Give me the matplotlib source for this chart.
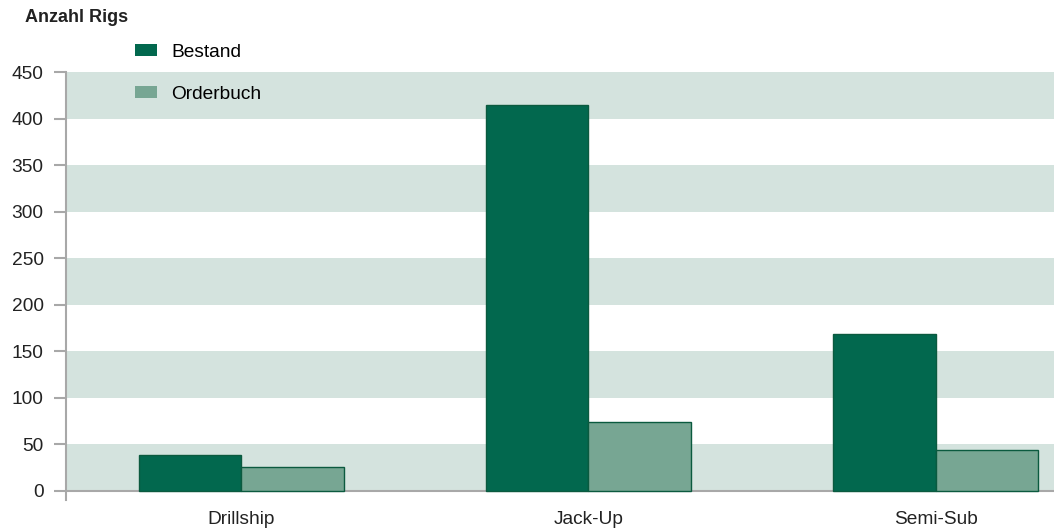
import matplotlib
matplotlib.use('Agg')
import matplotlib.pyplot as plt
import numpy as np

plt.rcParams['font.family'] = ['Liberation Sans', 'DejaVu Sans']

# data
categories = ['Drillship', 'Jack-Up', 'Semi-Sub']
bestand = [38, 415, 168]
orderbuch = [25, 74, 44]
series_labels = ['Bestand', 'Orderbuch']
yticks = np.arange(0, 451, 50)

c_best = '#02684e'
c_order = '#77a693'
c_edge = '#0b5a3f'
c_band = '#d4e3de'
c_axis = '#a8a8a8'

fig = plt.figure(figsize=(10.54, 5.28), dpi=100)
ax = fig.add_axes([66 / 1054, 28 / 528, 1 - 66 / 1054, (500 - 72) / 528])

# horizontal bands
for lo in range(0, 450, 100):
    ax.axhspan(lo, lo + 50, color=c_band, lw=0, zorder=0)
ax.axhline(0, color=c_axis, lw=1.5, zorder=1)

x = np.arange(len(categories))
w = 0.295
ax.bar(x - w / 2, bestand, w, color=c_best, edgecolor=c_edge, lw=1, zorder=2, label=series_labels[0])
ax.bar(x + w / 2, orderbuch, w, color=c_order, edgecolor=c_edge, lw=1, zorder=2, label=series_labels[1])

ax.set_xlim(-0.504, 2.34)
ax.set_ylim(-10, 450)
ax.set_yticks(yticks)
ax.set_yticklabels([str(v) for v in yticks], fontsize=13.8, color='#222222')
ax.tick_params(axis='y', length=8.6, width=1.5, color=c_axis, pad=7.5)
ax.set_xticks(x)
ax.set_xticklabels(categories, fontsize=13.8, color='#222222')
ax.tick_params(axis='x', length=0, pad=8)

for s in ['top', 'right', 'bottom']:
    ax.spines[s].set_visible(False)
ax.spines['left'].set_color(c_axis)
ax.spines['left'].set_linewidth(1.5)

fig.text(25 / 1054, 1 - 17 / 528, 'Anzahl Rigs', fontsize=13, fontweight='bold',
         va='center', ha='left', color='#222222')

leg = ax.legend(loc='upper left', bbox_to_anchor=(135 / 1054, 1 - 44 / 528),
                bbox_transform=fig.transFigure, frameon=False, fontsize=13.8,
                handlelength=1.15, handleheight=0.62, handletextpad=0.75,
                labelspacing=1.3, borderpad=0, borderaxespad=0)
for h in leg.legend_handles:
    h.set_edgecolor('none')

fig.savefig('out.png', dpi=100)
